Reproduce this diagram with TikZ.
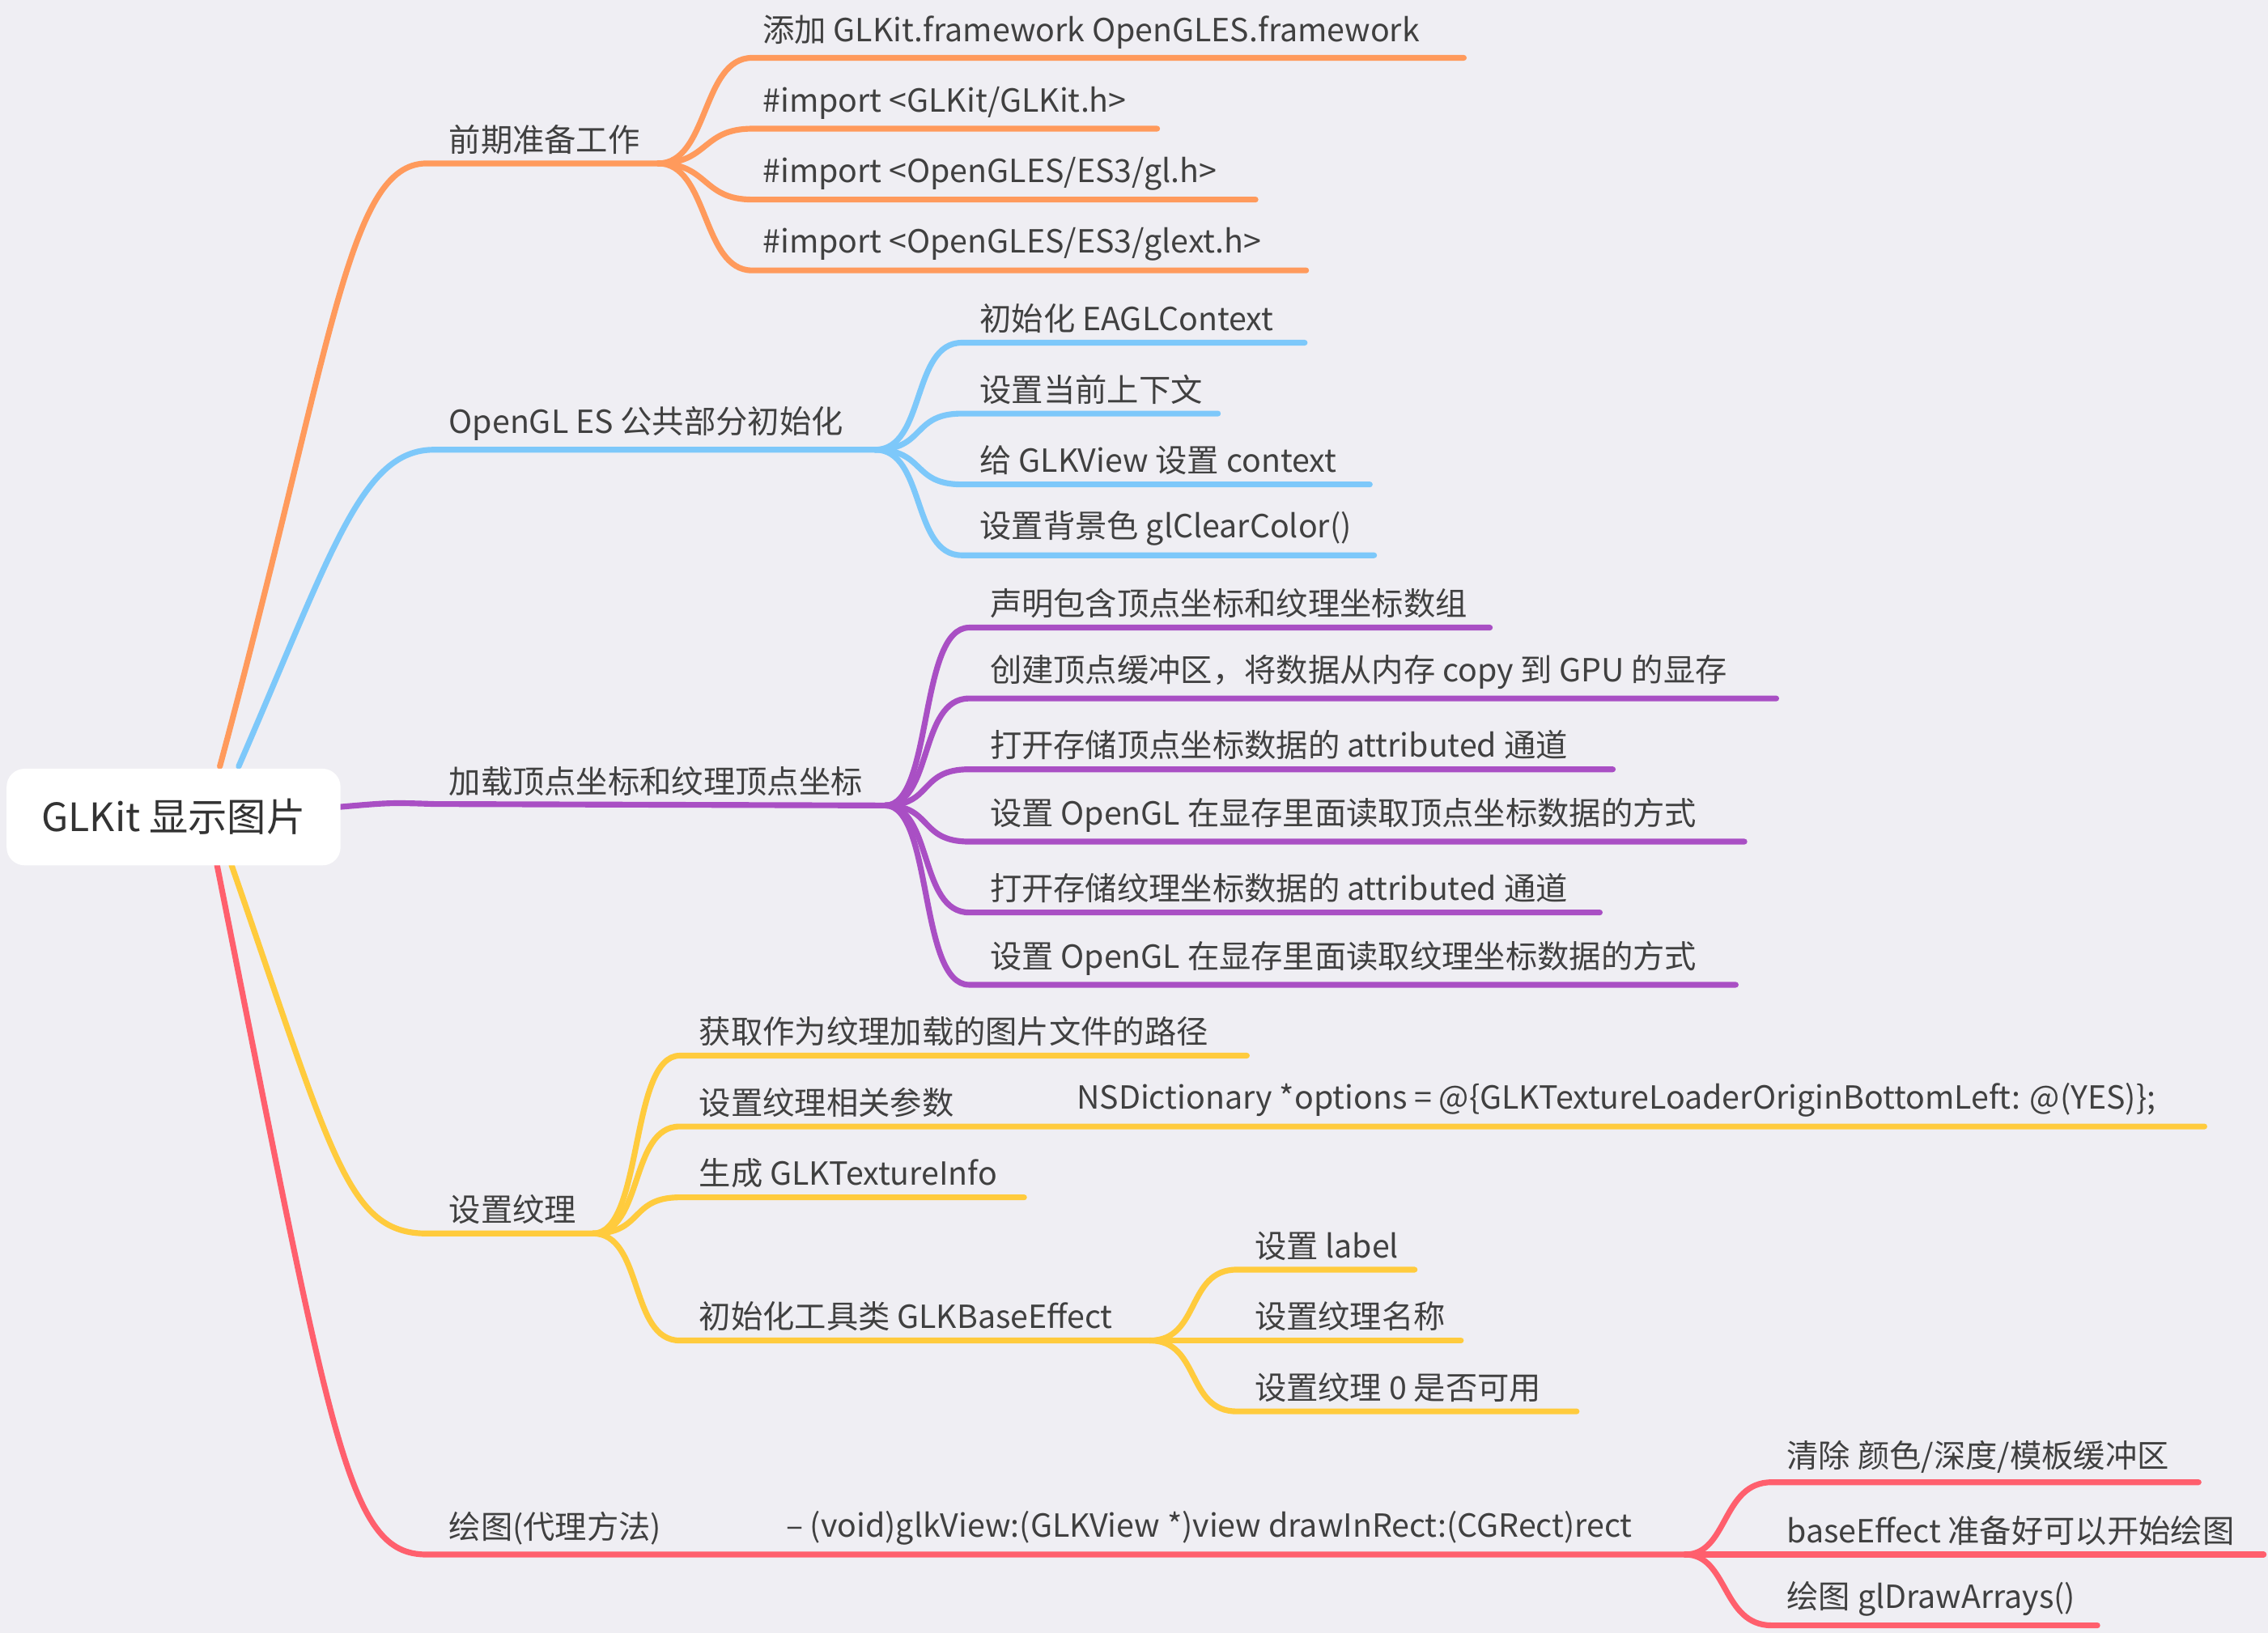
\documentclass[tikz,border=0pt]{standalone}
\usepackage{fontspec}
\setmainfont{Noto Sans CJK SC}
\begin{document}
\begin{tikzpicture}[x=0.5pt,y=-0.5pt,
  br/.style={line width=2pt,line cap=round},
  lbl/.style={anchor=south west,inner sep=0pt,text=black!75,font=\fontsize{11}{13}\selectfont},
  c1/.style={draw=orange1},c2/.style={draw=blue1},c3/.style={draw=purple1},c4/.style={draw=yellow1},c5/.style={draw=red1}]
\definecolor{bg}{HTML}{EFEEF3}
\definecolor{orange1}{HTML}{FF9A5C}
\definecolor{blue1}{HTML}{7DC8FA}
\definecolor{purple1}{HTML}{A94FC4}
\definecolor{yellow1}{HTML}{FFCB3D}
\definecolor{red1}{HTML}{FF5F6D}
\fill[bg] (0,0) rectangle (1568,1129);
\useasboundingbox (0,0) rectangle (1568,1129);
% main branches
\draw[br,orange1] (152,530) .. controls (230,240) and (240,113) .. (295,113) -- (455,113) coordinate (h1);
\draw[br,blue1] (165,530) .. controls (230,380) and (250,311) .. (300,311) -- (605,311) coordinate (h2);
\draw[br,purple1] (235,558) .. controls (270,555) .. (300,556) -- (612,557) coordinate (h3);
\draw[br,yellow1] (160,598) .. controls (230,800) and (240,853) .. (295,853) -- (410,853) coordinate (h4);
\draw[br,red1] (150,598) .. controls (230,1000) and (240,1075) .. (295,1075) -- (1165,1075) coordinate (h5);
\node[draw=white,fill=white,rounded corners=6pt,minimum width=115pt,minimum height=33pt,text=black!80,font=\fontsize{13.5}{16}\selectfont] (root) at (120,565) {GLKit 显示图片};
\node[lbl] (m1) at (310,107) {前期准备工作};
\node[lbl] (m2) at (310,305) {OpenGL ES 公共部分初始化};
\node[lbl] (m3) at (310,551) {加载顶点坐标和纹理顶点坐标};
\node[lbl] (m4) at (310,847) {设置纹理};
\node[lbl] (m5) at (310,1069) {绘图(代理方法)};
\node[lbl] (m5b) at (543,1069) {– (void)glkView:(GLKView *)view drawInRect:(CGRect)rect};
% children
\foreach \y/\e/\t [count=\i] in {40/1012/{添加 GLKit.framework OpenGLES.framework},89/800/{\#import <GLKit/GLKit.h>},138/868/{\#import <OpenGLES/ES3/gl.h>},187/903/{\#import <OpenGLES/ES3/glext.h>}}{
  \draw[br,orange1] (h1) .. controls (490,113) and (485,\y) .. (520,\y) -- (\e,\y);
  \node[lbl] (a\i) at (527,\y-6) {\t};}
\foreach \y/\e/\t [count=\i] in {237/902/{初始化 EAGLContext},286/842/{设置当前上下文},335/947/{给 GLKView 设置 context},384/950/{设置背景色 glClearColor()}}{
  \draw[br,blue1] (h2) .. controls (640,311) and (630,\y) .. (665,\y) -- (\e,\y);
  \node[lbl] (b\i) at (677,\y-6) {\t};}
\foreach \y/\e/\t [count=\i] in {434/1030/{声明包含顶点坐标和纹理坐标数组},483/1228/{创建顶点缓冲区，将数据从内存 copy 到 GPU 的显存},532/1115/{打开存储顶点坐标数据的 attributed 通道},582/1206/{设置 OpenGL 在显存里面读取顶点坐标数据的方式},631/1106/{打开存储纹理坐标数据的 attributed 通道},681/1200/{设置 OpenGL 在显存里面读取纹理坐标数据的方式}}{
  \draw[br,purple1] (h3) .. controls (645,557) and (635,\y) .. (670,\y) -- (\e,\y);
  \node[lbl] (p\i) at (684,\y-6) {\t};}
\foreach \y/\e/\t [count=\i] in {730/862/{获取作为纹理加载的图片文件的路径},779/1524/{设置纹理相关参数},828/708/{生成 GLKTextureInfo},927/795/{初始化工具类 GLKBaseEffect}}{
  \draw[br,yellow1] (h4) .. controls (445,853) and (435,\y) .. (470,\y) -- (\e,\y);
  \node[lbl] (y\i) at (483,\y-6) {\t};}
\node[lbl] (y2b) at (744,773) {NSDictionary *options = @\{GLKTextureLoaderOriginBottomLeft: @(YES)\};};
\coordinate (h4b) at (795,927);
\foreach \y/\e/\t [count=\i] in {878/978/{设置 label},927/1010/{设置纹理名称},976/1090/{设置纹理 0 是否可用}}{
  \draw[br,yellow1] (h4b) .. controls (830,927) and (820,\y) .. (855,\y) -- (\e,\y);
  \node[lbl] (z\i) at (867,\y-6) {\t};}
\foreach \y/\e/\t [count=\i] in {1025/1520/{清除 颜色/深度/模板缓冲区},1075/1565/{baseEffect 准备好可以开始绘图},1124/1450/{绘图 glDrawArrays()}}{
  \draw[br,red1] (h5) .. controls (1195,1075) and (1190,\y) .. (1225,\y) -- (\e,\y);
  \node[lbl] (r\i) at (1235,\y-6) {\t};}
\end{tikzpicture}
\end{document}
